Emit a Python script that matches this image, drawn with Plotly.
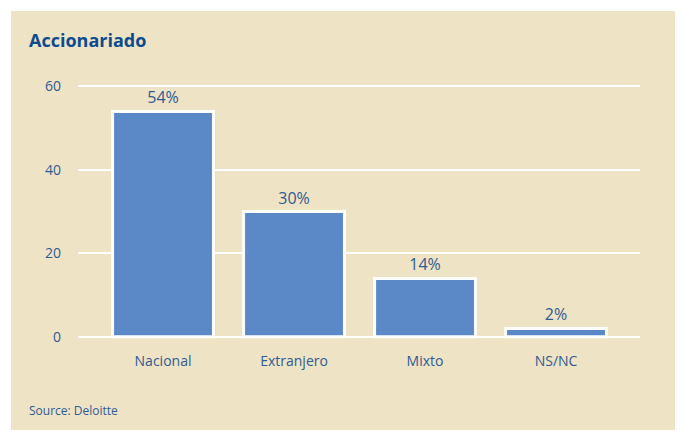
import plotly.graph_objects as go

categories = ["Nacional", "Extranjero", "Mixto", "NS/NC"]
values = [54, 30, 14, 2]
labels = ["54%", "30%", "14%", "2%"]
y_ticks = [0, 20, 40, 60]

beige = "#EFE3C6"
bar_blue = "#5B88C6"
text_blue = "#2D5B92"

# plot area in pixels (figure coords)
L, R, T, B = 70, 51, 70, 97
PW, PH = 683 - L - R, 430 - T - B


def px(x):
    return (x - L) / PW


def py(y):
    return (430 - B - y) / PH


fig = go.Figure()
fig.add_trace(go.Bar(
    x=categories, y=values,
    text=labels, textposition="outside", cliponaxis=False,
    textfont=dict(size=16, color=text_blue, family="Open Sans"),
    marker=dict(color=bar_blue, line=dict(color="white", width=3)),
    width=0.77,
))

# beige panel behind the chart
fig.add_shape(type="rect", xref="paper", yref="paper", layer="below",
              x0=px(3), x1=px(668), y0=py(440), y1=py(3),
              fillcolor=beige, line=dict(width=0))

fig.add_annotation(text="<b>Accionariado</b>", xref="paper", yref="paper",
                   x=px(19), y=py(32), xanchor="left", yanchor="middle",
                   showarrow=False,
                   font=dict(size=18, color="#0A4C8F", family="Open Sans"))
fig.add_annotation(text="Source: Deloitte", xref="paper", yref="paper",
                   x=px(19), y=py(402), xanchor="left", yanchor="middle",
                   showarrow=False,
                   font=dict(size=12, color=text_blue, family="Open Sans"))

fig.update_layout(
    width=683, height=430,
    margin=dict(l=L, r=R, t=T, b=B),
    paper_bgcolor="white", plot_bgcolor="rgba(0,0,0,0)",
    showlegend=False,
    font=dict(family="Open Sans", color=text_blue, size=14),
)
fig.update_xaxes(range=[-0.649, 3.641], showgrid=False, showline=False,
                 zeroline=False, ticks="", ticklabelstandoff=10,
                 tickfont=dict(size=14, color=text_blue))
fig.update_yaxes(range=[-1, 62], tickvals=y_ticks, showgrid=True,
                 gridcolor="white", gridwidth=2, zeroline=False,
                 showline=False, ticks="", ticklabelstandoff=16,
                 tickfont=dict(size=14, color=text_blue))

fig.write_html("out.html")
